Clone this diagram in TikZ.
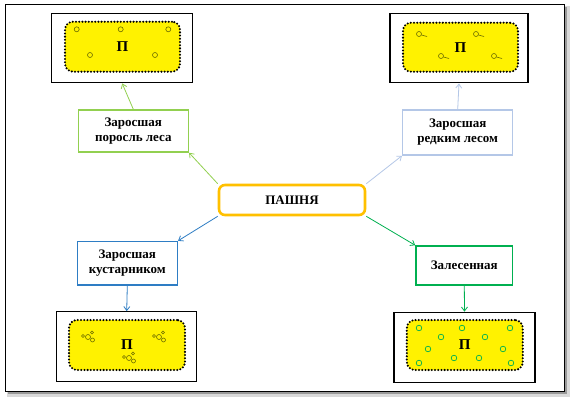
\documentclass[tikz,border=0pt]{standalone}
\usepackage{fontspec}
\setmainfont{Liberation Serif}
\usetikzlibrary{arrows.meta,calc}
\definecolor{lgreen}{HTML}{92D050}
\definecolor{lblue}{HTML}{B4C7E7}
\definecolor{mblue}{HTML}{2E7DC4}
\definecolor{dgreen}{HTML}{00B050}
\definecolor{orng}{HTML}{FFC000}
\definecolor{olive}{HTML}{6B6B00}
\tikzset{
  picbox/.style={draw=black,line width=1.3pt,fill=white,inner sep=0pt},
  yelbox/.style={fill=yellow,draw=black,line width=2.3pt,dash pattern=on 0pt off 3.2pt,line cap=round,rounded corners=8pt,inner sep=0pt,font=\fontsize{15}{17}\selectfont\bfseries},
  lab/.style={draw,line width=1.5pt,fill=white,align=center,inner sep=0pt,font=\fontsize{13}{15}\selectfont\bfseries},
  arr/.style={line width=0.8pt,-{Straight Barb[length=4pt,width=6pt]}},
  dotc/.style={draw=olive,line width=0.6pt},
  grc/.style={draw=dgreen,line width=0.7pt},
}
\begin{document}
\begin{tikzpicture}[x=1pt,y=-1pt]
\useasboundingbox (0,0) rectangle (576,400);
% outer frame with shadow
\fill[black!15] (7,6) rectangle (570,397);
\fill[black!40] (8,7) rectangle (567,394);
\draw[fill=white,line width=0.8pt] (5,4) rectangle (564,391);
% picture boxes
\node[picbox,minimum width=141pt,minimum height=69pt] (tl) at (122.2,48.3) {};
\node[yelbox,minimum width=115pt,minimum height=50pt] (tli) at (122.5,46.7) {П};
\node[picbox,minimum width=138pt,minimum height=69pt] (tr) at (459,48.3) {};
\node[yelbox,minimum width=115pt,minimum height=49pt] (tri) at (460.5,47.2) {П};
\node[picbox,minimum width=140pt,minimum height=70pt] (bl) at (126.7,346.8) {};
\node[yelbox,minimum width=116pt,minimum height=50pt] (bli) at (127,345) {П};
\node[picbox,minimum width=141pt,minimum height=70pt] (br) at (464.5,347.3) {};
\node[yelbox,minimum width=116pt,minimum height=50pt] (bri) at (464.8,345) {П};
% symbols top-left
\foreach \x/\y in {76.7/29.3,120.7/29.3,168.3/29.3,90/55,155/55}
  \draw[dotc] (\x,\y) circle (2.5pt);
% symbols top-right
\foreach \x/\y in {419/34,476/34,441/56,494/56}{
  \draw[dotc] (\x,\y) circle (2.5pt);
  \draw[olive,line width=0.6pt] (\x+2.5,\y+1) -- (\x+8,\y+2.5);
}
% symbols bottom-left
\foreach \x/\y in {88/337,159/337,129/358}{
  \draw[dotc] (\x-5,\y-1) circle (1.5pt);
  \draw[dotc] (\x,\y) circle (2.5pt);
  \draw[dotc] (\x+4,\y-4.5) circle (1.5pt);
  \draw[dotc] (\x+4.5,\y+3) circle (2pt);
}
% symbols bottom-right
\foreach \x/\y in {419/328,462/328,510/328,441/337,485/337,428/349,503/349,454/358,479/358,419/363,511/363}
  \draw[grc] (\x,\y) circle (2.8pt);
% labels
\node[lab,draw=lgreen,minimum width=110pt,minimum height=42pt] (l1) at (133.3,131) {Заросшая\\поросль леса};
\node[lab,draw=lblue,minimum width=110pt,minimum height=45pt] (l2) at (457.7,132.5) {Заросшая\\редким лесом};
\node[lab,draw=orng,line width=2.6pt,rounded corners=6pt,minimum width=146pt,minimum height=30pt] (p) at (292,200) {ПАШНЯ};
\node[lab,draw=mblue,minimum width=100pt,minimum height=43.5pt] (l3) at (127.3,263.3) {Заросшая\\кустарником};
\node[lab,draw=dgreen,minimum width=96.7pt,minimum height=39pt] (l4) at (464.3,265.5) {Залесенная};
% connectors
\draw[arr,lgreen] (p.north west) -- (l1.south east);
\draw[arr,lgreen] (l1.north) -- (tl.south);
\draw[arr,lblue] (p.north east) -- (l2.south west);
\draw[arr,lblue] (l2.north) -- (tr.south);
\draw[arr,mblue] (p.south west) -- (l3.north east);
\draw[arr,mblue] (l3.south) -- (bl.north);
\draw[arr,dgreen] (p.south east) -- (l4.north west);
\draw[arr,dgreen] (l4.south) -- (br.north);
\end{tikzpicture}
\end{document}
